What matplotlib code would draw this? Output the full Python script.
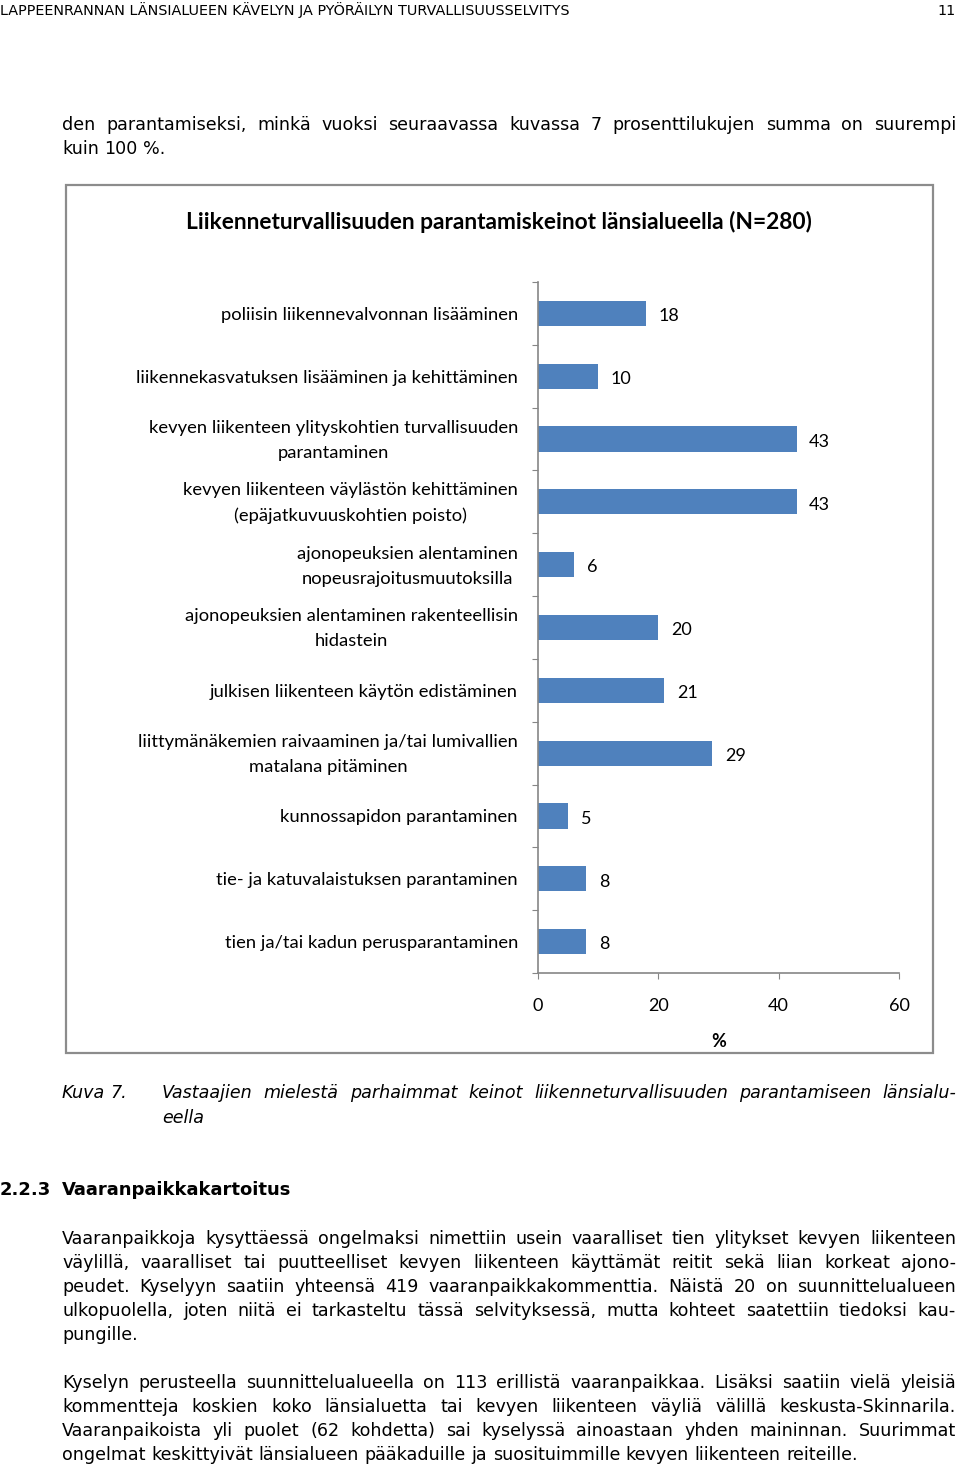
import numpy as np
import matplotlib
matplotlib.use("Agg")
import matplotlib.pyplot as plt
from matplotlib.patches import Rectangle

# data
categories = [
    "poliisin liikennevalvonnan lisääminen",
    "liikennekasvatuksen lisääminen ja kehittäminen",
    "kevyen liikenteen ylityskohtien turvallisuuden\nparantaminen",
    "kevyen liikenteen väylästön kehittäminen\n(epäjatkuvuuskohtien poisto)",
    "ajonopeuksien alentaminen\nnopeusrajoitusmuutoksilla",
    "ajonopeuksien alentaminen rakenteellisin\nhidastein",
    "julkisen liikenteen käytön edistäminen",
    "liittymänäkemien raivaaminen ja/tai lumivallien\nmatalana pitäminen",
    "kunnossapidon parantaminen",
    "tie- ja katuvalaistuksen parantaminen",
    "tien ja/tai kadun perusparantaminen",
]
values = [18, 10, 43, 43, 6, 20, 21, 29, 5, 8, 8]
x_ticks = [0, 20, 40, 60]
chart_title = "Liikenneturvallisuuden parantamiskeinot länsialueella (N=280)"

header = "LAPPEENRANNAN LÄNSIALUEEN KÄVELYN JA PYÖRÄILYN TURVALLISUUSSELVITYS"
page_no = "11"
intro = ["den parantamiseksi, minkä vuoksi seuraavassa kuvassa 7 prosenttilukujen summa on suurempi",
         "kuin 100 %."]
caption_no = "Kuva 7."
caption = ["Vastaajien mielestä parhaimmat keinot liikenneturvallisuuden parantamiseen länsialu-",
           "eella"]
heading_no = "2.2.3"
heading = "Vaaranpaikkakartoitus"
para1 = ["Vaaranpaikkoja kysyttäessä ongelmaksi nimettiin usein vaaralliset tien ylitykset kevyen liikenteen",
         "väylillä, vaaralliset tai puutteelliset kevyen liikenteen käyttämät reitit sekä liian korkeat ajono-",
         "peudet. Kyselyyn saatiin yhteensä 419 vaaranpaikkakommenttia. Näistä 20 on suunnittelualueen",
         "ulkopuolella, joten niitä ei tarkasteltu tässä selvityksessä, mutta kohteet saatettiin tiedoksi kau-",
         "pungille."]
para2 = ["Kyselyn perusteella suunnittelualueella on 113 erillistä vaaranpaikkaa. Lisäksi saatiin vielä yleisiä",
         "kommentteja koskien koko länsialuetta tai kevyen liikenteen väyliä välillä keskusta-Skinnarila.",
         "Vaaranpaikoista yli puolet (62 kohdetta) sai kyselyssä ainoastaan yhden maininnan. Suurimmat",
         "ongelmat keskittyivät länsialueen pääkaduille ja suosituimmille kevyen liikenteen reiteille."]

W, H = 960, 1465
fig = plt.figure(figsize=(W / 100, H / 100), dpi=100)
renderer = fig.canvas.get_renderer()
body = dict(family="DejaVu Sans", size=12.6)


def px(x, y):
    return x / W, 1 - y / H


def put_line(line, x0, x1, y, justify=True, **kw):
    # y is the visual middle of the line; words sit on a common baseline
    words = line.split(" ")
    texts = [fig.text(0, 0, w, ha="left", va="baseline", **kw) for w in words]
    widths = [t.get_window_extent(renderer).width for t in texts]
    if justify and len(words) > 1:
        gap = (x1 - x0 - sum(widths)) / (len(words) - 1)
    else:
        a = fig.text(0, 0, "a a", **kw)
        b = fig.text(0, 0, "aa", **kw)
        gap = a.get_window_extent(renderer).width - b.get_window_extent(renderer).width
        a.remove()
        b.remove()
    x = x0
    for t, w in zip(texts, widths):
        t.set_position(px(x, y + 6))
        x += w + gap


def put_par(lines, x0, x1, y0, step=24, **kw):
    for i, line in enumerate(lines):
        put_line(line, x0, x1, y0 + i * step, justify=(i < len(lines) - 1), **kw)


# page text
fig.text(*px(0, 15), header, ha="left", va="baseline", family="DejaVu Sans", size=10.4)
fig.text(*px(956, 15), page_no, ha="right", va="baseline", family="DejaVu Sans", size=10.4)
put_par(intro, 62, 956, 124, **body)
put_line(caption_no, 62, 131, 1092, justify=False, style="italic", **body)
put_par(caption, 162, 956, 1092, 25, style="italic", **body)
put_line(heading_no, 0, 47, 1189, justify=False, weight="bold", family="DejaVu Sans", size=13)
put_line(heading, 62, 293, 1189, justify=False, weight="bold", family="DejaVu Sans", size=13)
put_par(para1, 62, 956, 1238, **body)
put_par(para2, 62, 956, 1382, **body)

# chart frame
fig.patches.append(Rectangle(px(66, 1053), (933 - 66) / W, (1053 - 185) / H,
                             transform=fig.transFigure, fill=False,
                             edgecolor="#8c8c8c", linewidth=1.6))
fig.text(*px(499, 222), chart_title, ha="center", va="center",
         family="Lato", weight="bold", size=16.4)

# chart
ax = fig.add_axes([538 / W, 1 - 973 / H, 361 / W, 691 / H])
pos = np.arange(len(categories))
ax.barh(pos, values, height=0.4, color="#4f81bd")
ax.set_xlim(0, 60)
ax.set_ylim(len(categories) - 0.5, -0.5)
for p, v in zip(pos, values):
    ax.annotate(str(v), (v, p), xytext=(9, -2), textcoords="offset points",
                ha="left", va="center", family="Lato", size=13)

# category labels, right-aligned left of the axis
for p, c in zip(pos, categories):
    ax.annotate(c, (0, p), xycoords=("axes fraction", "data"),
                xytext=(-14.4, -1), textcoords="offset points",
                ha="right", va="center", multialignment="center",
                linespacing=1.7, family="Lato", size=13.2)

ax.set_yticks(np.arange(-0.5, len(categories), 1))
ax.set_yticklabels([])
ax.tick_params(axis="y", length=4, color="#868686", direction="out")
ax.set_xticks(x_ticks)
ax.set_xticklabels([str(t) for t in x_ticks], family="Lato", size=13)
ax.tick_params(axis="x", length=4, color="#868686", direction="out", pad=14)
ax.set_xlabel("%", family="Lato", weight="bold", size=13, labelpad=14)

for s in ["top", "right"]:
    ax.spines[s].set_visible(False)
for s in ["left", "bottom"]:
    ax.spines[s].set_color("#868686")
    ax.spines[s].set_linewidth(1.2)

fig.savefig("out.png", dpi=100)
